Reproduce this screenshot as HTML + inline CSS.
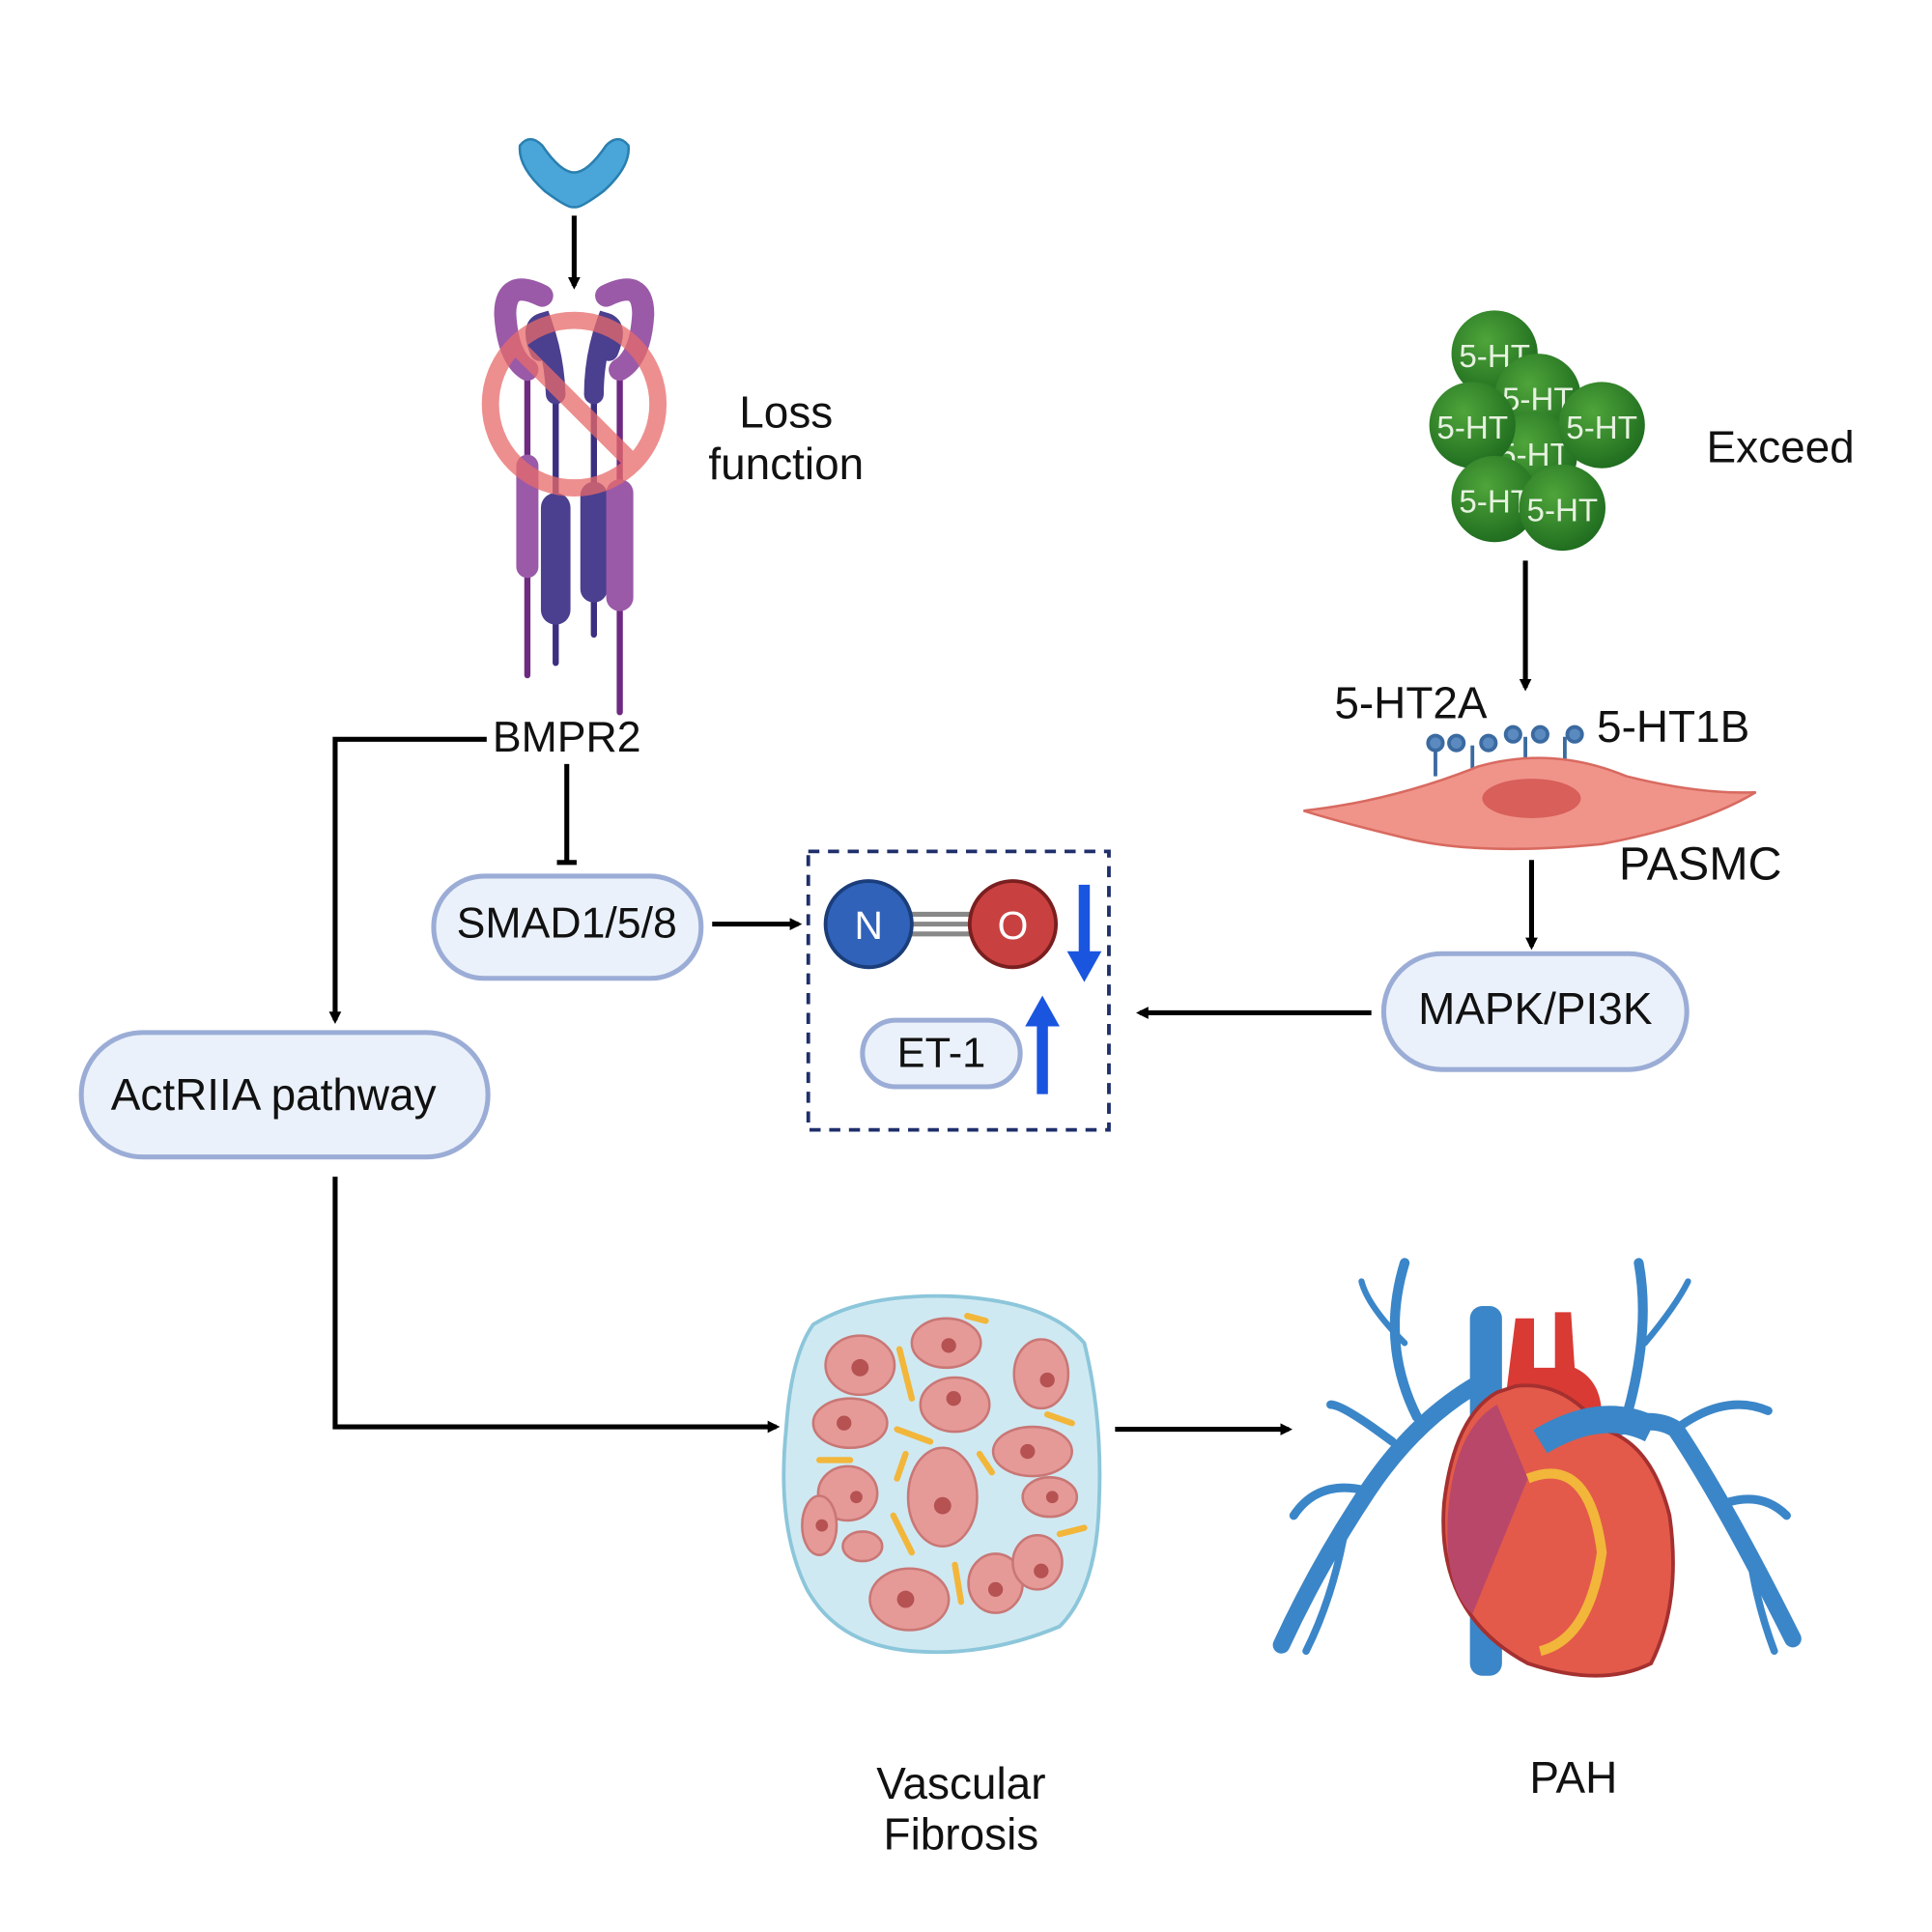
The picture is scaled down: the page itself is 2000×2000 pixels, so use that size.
<!DOCTYPE html>
<html><head><meta charset="utf-8"><style>
html,body{margin:0;padding:0;background:#fff;}
svg{display:block;}
text{font-family:"Liberation Sans",Arial,sans-serif;fill:#111;}
</style></head><body>
<svg width="2000" height="2000" viewBox="0 0 1568 1568" xmlns="http://www.w3.org/2000/svg">
<defs>
<marker id="ah" markerWidth="10" markerHeight="10" refX="7" refY="5" orient="auto" markerUnits="userSpaceOnUse">
<path d="M0,0 L10,5 L0,10 z" fill="#000"/></marker>
<radialGradient id="gr" cx="0.4" cy="0.35" r="0.7"><stop offset="0" stop-color="#4fa53a"/><stop offset="1" stop-color="#1d6a1e"/></radialGradient>
</defs>

<!-- ligand -->
<path d="M422,118 Q430,108 440,118 Q455,140 466,140 Q477,140 492,118 Q502,108 510,118 Q512,135 490,155 Q470,170 466,168 Q462,170 442,155 Q420,135 422,118z" fill="#4aa6d8" stroke="#2a7fb0" stroke-width="2"/>
<line x1="466" y1="175" x2="466" y2="232" stroke="#000" stroke-width="4" marker-end="url(#ah)"/>

<!-- receptor -->
<g stroke-linecap="round">
<line x1="428" y1="300" x2="428" y2="548" stroke="#6e2a80" stroke-width="5"/>
<line x1="451" y1="320" x2="451" y2="538" stroke="#3a2f80" stroke-width="5"/>
<line x1="482" y1="320" x2="482" y2="515" stroke="#3a2f80" stroke-width="5"/>
<line x1="503" y1="300" x2="503" y2="578" stroke="#6e2a80" stroke-width="5"/>
<line x1="428" y1="378" x2="428" y2="460" stroke="#9a5aa8" stroke-width="18"/>
<line x1="451" y1="412" x2="451" y2="495" stroke="#4b3f8f" stroke-width="24"/>
<line x1="482" y1="402" x2="482" y2="478" stroke="#4b3f8f" stroke-width="22"/>
<line x1="503" y1="400" x2="503" y2="485" stroke="#9a5aa8" stroke-width="22"/>
<path d="M440,240 Q410,225 410,255 Q412,290 428,300" fill="none" stroke="#9a5aa8" stroke-width="18"/>
<path d="M492,240 Q522,225 522,255 Q520,290 503,300" fill="none" stroke="#9a5aa8" stroke-width="18"/>
<path d="M438,285 Q430,265 440,262 Q450,290 451,320" fill="none" stroke="#4b3f8f" stroke-width="16"/>
<path d="M494,285 Q502,265 492,262 Q482,290 482,320" fill="none" stroke="#4b3f8f" stroke-width="16"/>
</g>
<g opacity="0.75">
<circle cx="466" cy="328" r="68" fill="none" stroke="#e86a6a" stroke-width="14"/>
<line x1="418" y1="280" x2="514" y2="376" stroke="#e86a6a" stroke-width="14"/>
</g>
<text x="638" y="347" font-size="36" text-anchor="middle">Loss</text>
<text x="638" y="389" font-size="36" text-anchor="middle">function</text>

<text x="460" y="610" font-size="35" text-anchor="middle">BMPR2</text>
<polyline points="395,600 272,600 272,828" fill="none" stroke="#000" stroke-width="4" marker-end="url(#ah)"/>
<line x1="460" y1="620" x2="460" y2="700" stroke="#000" stroke-width="4"/>
<line x1="452" y1="700" x2="468" y2="700" stroke="#000" stroke-width="4"/>

<rect x="352" y="711" width="217" height="83" rx="41" fill="#eaf1fa" stroke="#9badd6" stroke-width="4"/>
<text x="460" y="761" font-size="35" text-anchor="middle">SMAD1/5/8</text>
<line x1="578" y1="750" x2="648" y2="750" stroke="#000" stroke-width="4" marker-end="url(#ah)"/>

<rect x="656" y="691" width="244" height="226" fill="none" stroke="#1f2f6a" stroke-width="3" stroke-dasharray="9,7"/>
<line x1="735" y1="742" x2="795" y2="742" stroke="#888" stroke-width="4"/>
<line x1="735" y1="750" x2="795" y2="750" stroke="#888" stroke-width="4"/>
<line x1="735" y1="758" x2="795" y2="758" stroke="#888" stroke-width="4"/>
<circle cx="705" cy="750" r="35" fill="#2f62b8" stroke="#1b3d7a" stroke-width="3"/>
<circle cx="822" cy="750" r="35" fill="#c94040" stroke="#7a1f1f" stroke-width="3"/>
<text x="705" y="762" font-size="32" text-anchor="middle" style="fill:#fff">N</text>
<text x="822" y="762" font-size="32" text-anchor="middle" style="fill:#fff">O</text>
<line x1="880" y1="718" x2="880" y2="775" stroke="#1a55e0" stroke-width="9"/>
<path d="M866,772 L894,772 L880,797z" fill="#1a55e0"/>
<rect x="700" y="828" width="128" height="54" rx="27" fill="#eaf1fa" stroke="#9badd6" stroke-width="4"/>
<text x="764" y="866" font-size="34" text-anchor="middle">ET-1</text>
<line x1="846" y1="888" x2="846" y2="830" stroke="#1a55e0" stroke-width="9"/>
<path d="M832,833 L860,833 L846,808z" fill="#1a55e0"/>

<rect x="66" y="838" width="330" height="101" rx="50" fill="#eaf1fa" stroke="#9badd6" stroke-width="4"/>
<text x="222" y="901" font-size="36" text-anchor="middle">ActRIIA pathway</text>
<polyline points="272,955 272,1158 630,1158" fill="none" stroke="#000" stroke-width="4" marker-end="url(#ah)"/>

<!-- fibrosis -->
<path d="M660,1075 Q700,1050 770,1052 Q850,1055 880,1090 Q895,1150 892,1220 Q890,1290 860,1320 Q800,1345 740,1340 Q680,1335 655,1290 Q630,1240 638,1160 Q642,1100 660,1075z" fill="#cfe9f2" stroke="#8cc6da" stroke-width="3"/>
<g fill="#e59a98" stroke="#c97775" stroke-width="2">
<ellipse cx="698" cy="1108" rx="28" ry="24"/><ellipse cx="768" cy="1090" rx="28" ry="20"/>
<ellipse cx="845" cy="1115" rx="22" ry="28"/><ellipse cx="775" cy="1140" rx="28" ry="22"/>
<ellipse cx="690" cy="1155" rx="30" ry="20"/><ellipse cx="838" cy="1178" rx="32" ry="20"/>
<ellipse cx="765" cy="1215" rx="28" ry="40"/><ellipse cx="688" cy="1212" rx="24" ry="22"/>
<ellipse cx="852" cy="1215" rx="22" ry="16"/><ellipse cx="665" cy="1238" rx="14" ry="24"/>
<ellipse cx="700" cy="1255" rx="16" ry="12"/><ellipse cx="738" cy="1298" rx="32" ry="25"/>
<ellipse cx="808" cy="1285" rx="22" ry="24"/><ellipse cx="842" cy="1268" rx="20" ry="22"/>
</g>
<g fill="#b65252">
<circle cx="698" cy="1110" r="7"/><circle cx="770" cy="1092" r="6"/><circle cx="850" cy="1120" r="6"/>
<circle cx="774" cy="1135" r="6"/><circle cx="685" cy="1155" r="6"/><circle cx="834" cy="1178" r="6"/>
<circle cx="765" cy="1222" r="7"/><circle cx="695" cy="1215" r="5"/><circle cx="854" cy="1215" r="5"/>
<circle cx="667" cy="1238" r="5"/><circle cx="735" cy="1298" r="7"/><circle cx="808" cy="1290" r="6"/><circle cx="845" cy="1275" r="6"/>
</g>
<g stroke="#f2b63a" stroke-width="5" stroke-linecap="round">
<line x1="730" y1="1095" x2="740" y2="1135"/><line x1="728" y1="1160" x2="755" y2="1170"/>
<line x1="735" y1="1180" x2="728" y2="1200"/><line x1="860" y1="1245" x2="880" y2="1240"/>
<line x1="725" y1="1230" x2="740" y2="1260"/><line x1="775" y1="1270" x2="780" y2="1300"/>
<line x1="795" y1="1180" x2="805" y2="1195"/><line x1="850" y1="1148" x2="870" y2="1155"/>
<line x1="665" y1="1185" x2="690" y2="1185"/><line x1="785" y1="1068" x2="800" y2="1072"/>
</g>
<line x1="905" y1="1160" x2="1046" y2="1160" stroke="#000" stroke-width="4" marker-end="url(#ah)"/>

<!-- lungs -->
<g stroke="#3b86c8" fill="none" stroke-linecap="round">
<path d="M1205,1120 Q1150,1150 1110,1210 Q1070,1270 1040,1335" stroke-width="14"/>
<path d="M1150,1150 Q1120,1090 1140,1025" stroke-width="8"/>
<path d="M1130,1170 Q1090,1140 1080,1140" stroke-width="7"/>
<path d="M1110,1210 Q1070,1200 1050,1230" stroke-width="7"/>
<path d="M1090,1250 Q1080,1300 1060,1340" stroke-width="6"/>
<path d="M1140,1090 Q1110,1060 1105,1040" stroke-width="5"/>
<path d="M1260,1185 Q1330,1140 1360,1160 Q1400,1220 1455,1330" stroke-width="14"/>
<path d="M1320,1150 Q1340,1080 1330,1025" stroke-width="8"/>
<path d="M1360,1160 Q1400,1130 1435,1145" stroke-width="7"/>
<path d="M1400,1220 Q1430,1210 1450,1230" stroke-width="7"/>
<path d="M1420,1260 Q1425,1300 1440,1340" stroke-width="6"/>
<path d="M1335,1090 Q1360,1060 1370,1040" stroke-width="5"/>
</g>
<!-- heart -->
<rect x="1193" y="1060" width="26" height="300" rx="10" fill="#3b86c8"/>
<path d="M1230,1070 L1245,1070 L1245,1110 L1262,1110 L1262,1065 L1275,1065 L1278,1110 Q1300,1120 1300,1150 L1220,1150z" fill="#d93a34"/>
<path d="M1215,1130 Q1180,1150 1172,1220 Q1165,1310 1240,1350 Q1300,1370 1340,1350 Q1365,1300 1355,1230 Q1340,1170 1300,1160 Q1270,1120 1230,1125z" fill="#e35a4a" stroke="#a53030" stroke-width="3"/>
<path d="M1215,1140 Q1180,1160 1175,1230 Q1172,1290 1195,1310 L1240,1200z" fill="#b9476a"/>
<path d="M1240,1200 Q1290,1180 1300,1260 Q1290,1330 1250,1340" fill="none" stroke="#f2b63a" stroke-width="8"/>
<path d="M1250,1170 Q1300,1140 1340,1160" fill="none" stroke="#3b86c8" stroke-width="22"/>

<!-- 5-HT -->
<g font-size="26" text-anchor="middle">
<circle cx="1213" cy="287" r="35" fill="url(#gr)"/><text x="1213" y="298" style="fill:#e6f2e0">5-HT</text>
<circle cx="1248" cy="322" r="35" fill="url(#gr)"/><text x="1248" y="333" style="fill:#e6f2e0">5-HT</text>
<circle cx="1245" cy="370" r="35" fill="url(#gr)"/><text x="1245" y="378" style="fill:#e6f2e0">5-HT</text>
<circle cx="1195" cy="345" r="35" fill="url(#gr)"/><text x="1195" y="356" style="fill:#e6f2e0">5-HT</text>
<circle cx="1300" cy="345" r="35" fill="url(#gr)"/><text x="1300" y="356" style="fill:#e6f2e0">5-HT</text>
<circle cx="1213" cy="405" r="35" fill="url(#gr)"/><text x="1213" y="416" style="fill:#e6f2e0">5-HT</text>
<circle cx="1268" cy="412" r="35" fill="url(#gr)"/><text x="1268" y="423" style="fill:#e6f2e0">5-HT</text>
</g>
<text x="1445" y="375" font-size="36" text-anchor="middle">Exceed</text>
<line x1="1238" y1="455" x2="1238" y2="558" stroke="#000" stroke-width="4" marker-end="url(#ah)"/>
<text x="1145" y="583" font-size="36" text-anchor="middle">5-HT2A</text>
<text x="1358" y="602" font-size="36" text-anchor="middle">5-HT1B</text>
<g stroke="#3b6aa0" stroke-width="3" fill="#5a8ac0">
<line x1="1165" y1="605" x2="1165" y2="630"/><line x1="1195" y1="605" x2="1195" y2="625"/>
<line x1="1238" y1="598" x2="1238" y2="620"/><line x1="1270" y1="598" x2="1270" y2="620"/>
<circle cx="1165" cy="603" r="6"/><circle cx="1182" cy="603" r="6"/><circle cx="1208" cy="603" r="6"/>
<circle cx="1228" cy="596" r="6"/><circle cx="1250" cy="596" r="6"/><circle cx="1278" cy="596" r="6"/>
</g>
<path d="M1058,658 Q1130,650 1200,622 Q1260,605 1320,630 Q1380,645 1425,643 Q1380,670 1300,685 Q1200,695 1140,680 Q1090,668 1058,658z" fill="#f0948a" stroke="#d86a60" stroke-width="2"/>
<ellipse cx="1243" cy="648" rx="40" ry="16" fill="#d85f5a"/>
<text x="1380" y="714" font-size="38" text-anchor="middle">PASMC</text>
<line x1="1243" y1="698" x2="1243" y2="768" stroke="#000" stroke-width="4" marker-end="url(#ah)"/>
<rect x="1123" y="774" width="246" height="94" rx="47" fill="#eaf1fa" stroke="#9badd6" stroke-width="4"/>
<text x="1246" y="831" font-size="36" text-anchor="middle">MAPK/PI3K</text>
<line x1="1113" y1="822" x2="925" y2="822" stroke="#000" stroke-width="4" marker-end="url(#ah)"/>

<text x="780" y="1460" font-size="36" text-anchor="middle">Vascular</text>
<text x="780" y="1501" font-size="36" text-anchor="middle">Fibrosis</text>
<text x="1277" y="1455" font-size="36" text-anchor="middle">PAH</text>
</svg>
</body></html>
